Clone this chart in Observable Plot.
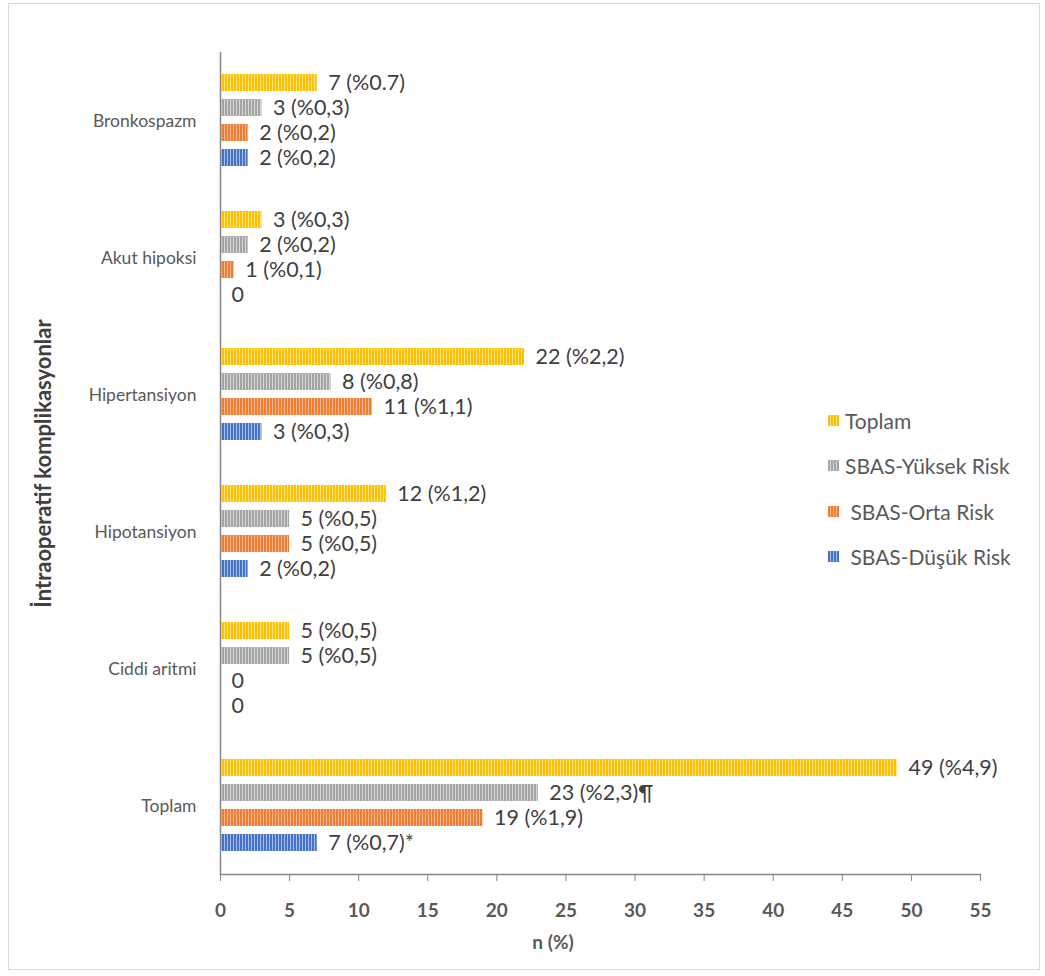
<!DOCTYPE html>
<html><head><meta charset="utf-8">
<script src="https://cdn.jsdelivr.net/npm/d3@7"></script>
<script src="https://cdn.jsdelivr.net/npm/@observablehq/plot@0.6"></script>
<style>
body{margin:0;background:#fff;font-family:Lato,"Open Sans",sans-serif;}
#wrap{position:relative;width:1045px;height:976px;overflow:hidden;}
#frame{position:absolute;left:8px;top:3px;width:1032px;height:967px;border:1px solid #d9d9d9;box-sizing:border-box;pointer-events:none;}
#legend{position:absolute;left:828px;top:398px;font-size:21px;color:#595959;}
.li{height:45.3px;display:flex;align-items:center;white-space:pre;}
.sw{width:11px;height:11px;margin-right:6px;flex:none;}
#xlabel{position:absolute;left:553px;top:930px;transform:translateX(-50%);font-weight:bold;font-size:19px;color:#595959;}
svg g[aria-label="fy-axis label"] text{font-weight:bold;font-size:22px;fill:#404040;}
</style></head>
<body><div id="wrap"><div id="frame"></div><div id="chart"></div><div id="legend"></div><div id="xlabel">n (%)</div></div>
<script>
const complications = ["Bronkospazm","Akut hipoksi","Hipertansiyon","Hipotansiyon","Ciddi aritmi","Toplam"];
const series = ["Toplam","SBAS-Yüksek Risk","SBAS-Orta Risk","SBAS-Düşük Risk"];
const legendText = ["Toplam","SBAS-Yüksek Risk"," SBAS-Orta Risk"," SBAS-Düşük Risk"];
const colors = ["#FFC000","#A5A5A5","#ED7D31","#4472C4"];
const stripes = ["#FFE48A","#D6D6D6","#F7B893","#A9C0EA"];
const toplamValues = [7,3,22,12,5,49];
const yuksekValues = [3,2,8,5,5,23];
const ortaValues = [2,1,11,5,0,19];
const dusukValues = [2,0,3,2,0,7];
const toplamLabels = ["7 (%0.7)","3 (%0,3)","22 (%2,2)","12 (%1,2)","5 (%0,5)","49 (%4,9)"];
const yuksekLabels = ["3 (%0,3)","2 (%0,2)","8 (%0,8)","5 (%0,5)","5 (%0,5)","23 (%2,3)¶"];
const ortaLabels = ["2 (%0,2)","1 (%0,1)","11 (%1,1)","5 (%0,5)","0","19 (%1,9)"];
const dusukLabels = ["2 (%0,2)","0","3 (%0,3)","2 (%0,2)","0","7 (%0,7)*"];
const xTicks = [0,5,10,15,20,25,30,35,40,45,50,55];

const valueSets = [toplamValues, yuksekValues, ortaValues, dusukValues];
const labelSets = [toplamLabels, yuksekLabels, ortaLabels, dusukLabels];
const rows = [];
series.forEach((s, si) => complications.forEach((c, ci) => {
  rows.push({complication: c, series: s, value: valueSets[si][ci], label: labelSets[si][ci]});
}));

const chart = Plot.plot({
  width: 1045, height: 976,
  marginTop: 49, marginBottom: 100, marginLeft: 220, marginRight: 65,
  style: {fontFamily: "Lato, 'Open Sans', sans-serif", background: "transparent", color: "#595959"},
  x: {domain: [0, 55]},
  fy: {domain: complications, padding: 0},
  y: {domain: series, paddingInner: 0.31, paddingOuter: 0.8, axis: null},
  color: {domain: series, range: series.map((d, i) => `url(#pat${i})`)},
  marks: [
    Plot.barX(rows, {x: "value", y: "series", fy: "complication", fill: "series"}),
    Plot.text(rows, {x: "value", y: "series", fy: "complication", text: "label", textAnchor: "start", dx: 11, fill: "#404040", fontSize: 21.5}),
    Plot.ruleX([0], {stroke: "#868686", strokeWidth: 1.5}),
    Plot.frame({anchor: "bottom", facetAnchor: "bottom", stroke: "#868686", strokeWidth: 1.5}),
    Plot.axisX({ticks: xTicks, tickSize: 7, tickPadding: 22, stroke: "#868686", fontSize: 19, fontWeight: "bold", label: null}),
    Plot.axisFy({anchor: "left", tickSize: 0, tickPadding: 24, fontSize: 17.5, label: "İntraoperatif komplikasyonlar", labelAnchor: "center", labelOffset: 185})
  ]
});

// stripe patterns used by the color scale
const svg = d3.select(chart.tagName.toLowerCase() === "svg" ? chart : chart.querySelector("svg"));
const defs = svg.insert("defs", ":first-child");
colors.forEach((c, i) => {
  const p = defs.append("pattern").attr("id", `pat${i}`).attr("patternUnits", "userSpaceOnUse").attr("width", 3).attr("height", 10);
  p.append("rect").attr("width", 3).attr("height", 10).attr("fill", c);
  p.append("rect").attr("x", 2).attr("width", 1).attr("height", 10).attr("fill", stripes[i]);
});
document.getElementById("chart").appendChild(chart);

const legend = d3.select("#legend");
series.forEach((s, i) => {
  const item = legend.append("div").attr("class", "li");
  item.append("div").attr("class", "sw")
    .style("background", `repeating-linear-gradient(90deg, ${colors[i]} 0 2px, ${stripes[i]} 2px 3px)`);
  item.append("span").text(legendText[i]);
});
</script></body></html>
